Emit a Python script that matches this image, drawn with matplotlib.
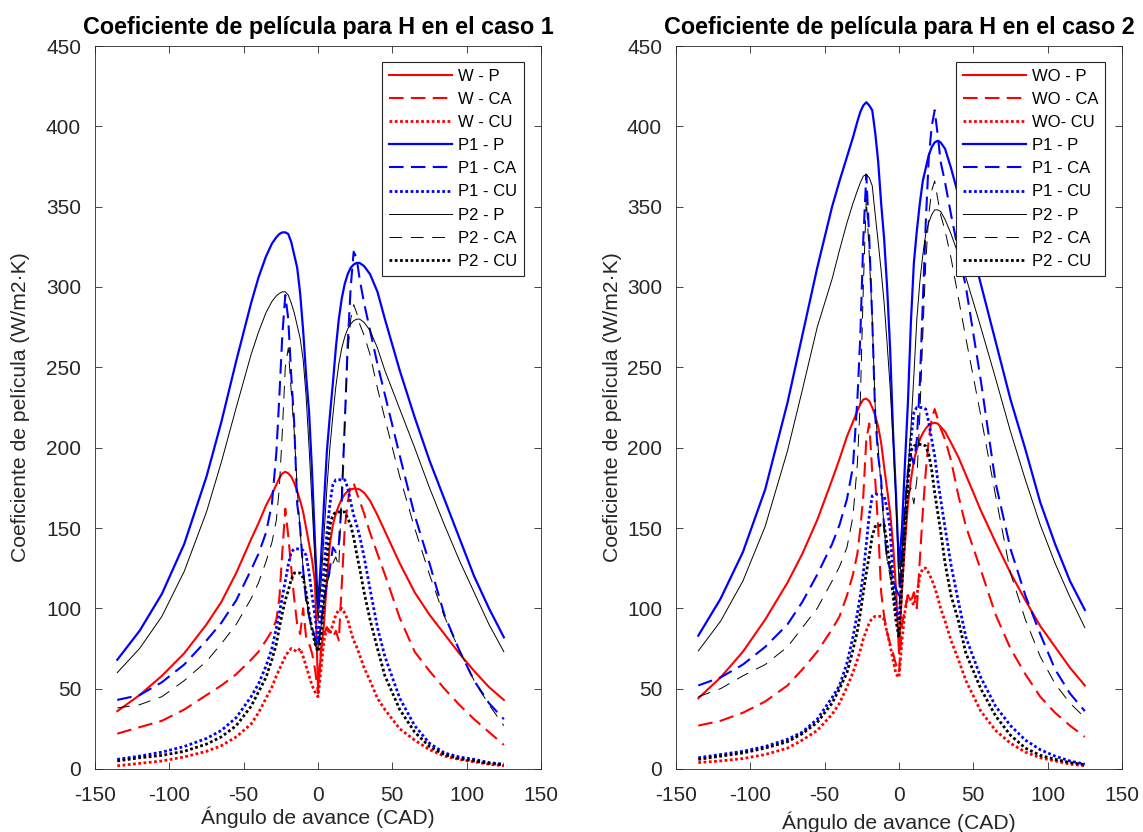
import matplotlib
matplotlib.use("Agg")
import matplotlib.pyplot as plt

plt.rcParams['font.family'] = ['Liberation Sans', 'DejaVu Sans']
plt.rcParams['axes.unicode_minus'] = False

# crank angle grid (CAD) shared by every series
ang = [-135, -120, -105, -90, -75, -65, -55, -45, -40, -35,
       -31, -28, -26, -24, -22, -20, -18, -16, -14, -12, -10, -8, -6, -4, -2,
       0,
       2, 4, 6, 8, 10, 12, 14, 16, 18, 20, 22, 24, 26, 28,
       31, 35, 40, 45,
       55, 65, 75, 85, 95, 105, 115, 125]

# ---- caso 1 ----
w_p_1 = [36, 46, 58, 72, 90, 104, 122, 143, 153, 164,
         171, 177, 181, 184, 185, 184, 182, 178, 173, 167, 160, 150, 140, 130, 116,
         50,
         72, 90, 118, 140, 152, 159, 164, 168, 171, 173, 174, 174.5, 174.5, 174,
         172, 167, 158, 148,
         128, 110, 96, 84, 72, 61, 51, 43]
w_ca_1 = [22, 26, 30, 37, 46, 52, 59, 68, 73, 80,
          86, 93, 106, 135, 162, 145, 125, 106, 90, 84, 100, 82, 78, 72, 62,
          47,
          75, 84, 88, 86, 82, 86, 80, 115, 150, 166, 177, 178, 172, 167,
          159, 147, 134, 121,
          94, 73, 61, 50, 40, 31, 23, 15]
w_cu_1 = [2, 3.5, 5, 7.5, 11, 14.5, 20, 28, 35, 44,
          51, 58, 62, 66, 70, 73, 75, 74, 73, 75, 70, 64, 58, 52, 48,
          45,
          62, 80, 88, 84, 90, 96, 99, 100, 97, 93, 86, 80, 76, 71,
          63, 55, 44, 37,
          25, 18, 12, 8, 6, 4.5, 3, 2]
p1_p_1 = [68, 86, 109, 140, 182, 216, 254, 290, 306, 319,
          327, 331, 333, 334, 334, 333, 328, 320, 312, 296, 273, 245, 222, 185, 140,
          100,
          130, 165, 198, 220, 240, 262, 280, 293, 302, 308, 312, 314, 315, 315,
          313, 308, 297, 280,
          248, 219, 192, 168, 144, 120, 100, 82]
p1_ca_1 = [43, 46, 54, 65, 80, 91, 105, 124, 134, 147,
           165, 197, 232, 270, 295, 280, 245, 215, 165, 150, 124, 105, 95, 88, 82,
           76,
           90, 105, 115, 125, 138, 135, 140, 167, 215, 265, 300, 322, 318, 305,
           290, 273, 252, 233,
           195, 158, 128, 96, 74, 55, 41, 31]
p1_cu_1 = [6, 8, 10.5, 14, 19, 24, 32, 45, 53, 64,
           75, 88, 97, 107, 117, 127, 135, 137, 137, 137, 136, 133, 122, 108, 95,
           80,
           100, 125, 147, 165, 177, 180, 180, 180, 180, 175, 166, 158, 152, 145,
           132, 112, 88, 70,
           44, 27, 16, 10, 7.5, 6, 4, 3]
p2_p_1 = [60, 75, 95, 123, 160, 191, 225, 258, 272, 284,
          291, 294.5, 296, 297, 297, 295, 290, 284, 276, 268, 255, 232, 200, 165, 128,
          92,
          115, 145, 175, 200, 220, 238, 252, 262, 269, 274, 277, 279, 280, 280,
          278, 273, 262, 248,
          224, 200, 175, 152, 130, 110, 90, 73]
p2_ca_1 = [38, 40, 45, 55, 67, 78, 90, 106, 116, 129,
           141, 155, 175, 210, 250, 262, 235, 210, 175, 148, 125, 108, 95, 85, 78,
           72,
           88, 105, 115, 122, 128, 132, 126, 175, 215, 258, 280, 289, 284, 277,
           270, 258, 237, 218,
           182, 150, 121, 95, 74, 55, 40, 27]
p2_cu_1 = [5, 7, 8.5, 11, 15.5, 20, 27, 39, 48, 57,
           68, 78, 88, 97, 105, 111, 118, 122, 122, 122, 119, 110, 97, 87, 78,
           73,
           82, 105, 130, 152, 158, 160, 160, 160, 160, 156, 152, 144, 134, 125,
           110, 93, 75, 58,
           37, 23, 14, 9, 6.5, 5, 3.5, 2.5]

# ---- caso 2 ----
w_p_2 = [44, 57, 73, 93, 116, 134, 155, 180, 193, 207,
         216, 223, 227, 230, 230.5, 229, 225, 220, 213, 203, 188, 174, 160, 140, 112,
         72,
         112, 140, 165, 180, 192, 199, 205, 209, 212, 214, 215, 215.5, 215, 213,
         210, 203, 194, 183,
         161, 141, 122, 105, 89, 76, 63, 52]
w_ca_2 = [27, 30, 35, 42, 52, 62, 73, 87, 95, 108,
          121, 134, 150, 170, 205, 215, 185, 180, 150, 110, 95, 85, 78, 72, 65,
          60,
          90, 100, 108, 104, 110, 100, 130, 160, 185, 205, 218, 224, 218, 212,
          205, 192, 170, 151,
          124, 96, 75, 59, 45, 35, 27, 20]
w_cu_2 = [4, 5, 6.5, 9, 13, 18, 24, 34, 41, 51,
          60, 68, 74, 81, 86, 91, 94, 95, 95, 95, 93, 85, 77, 68, 59,
          57,
          80, 98, 108, 105, 102, 108, 120, 125, 125, 122, 118, 113, 107, 100,
          92, 80, 68, 55,
          36, 24, 16, 10.5, 7, 5, 3, 2]
p1_p_2 = [83, 106, 135, 174, 228, 270, 312, 350, 366, 381,
          393, 403, 409, 413, 415, 413, 410, 396, 378, 352, 330, 300, 262, 210, 170,
          125,
          150, 190, 228, 278, 315, 335, 352, 366, 374, 382, 387, 390, 391, 390,
          386, 374, 357, 338,
          302, 266, 230, 199, 166, 140, 117, 99]
p1_ca_2 = [52, 57, 65, 76, 90, 104, 121, 140, 152, 168,
           188, 230, 270, 330, 370, 330, 280, 220, 195, 180, 150, 130, 125, 118, 112,
           108,
           135, 165, 185, 195, 190, 205, 240, 290, 340, 380, 400, 410, 395, 378,
           365, 345, 322, 300,
           242, 178, 137, 108, 84, 62, 47, 36]
p1_cu_2 = [7, 9, 11, 14, 18.5, 23, 31, 44.5, 52, 66,
           82, 97, 108, 122, 140, 158, 170, 171, 171, 171, 170, 162, 150, 118, 98,
           92,
           125, 157, 180, 205, 222, 225, 225, 225, 224, 216, 205, 195, 180, 168,
           150, 127, 104, 82,
           57, 39, 27, 18, 12, 8, 5, 3]
p2_p_2 = [73.5, 92, 117, 151, 198, 236, 275, 305, 323, 340,
          352, 360, 365, 369, 370, 368, 363, 345, 328, 310, 290, 265, 238, 205, 165,
          115,
          135, 160, 185, 212, 245, 280, 303, 320, 333, 340, 345, 348, 348, 347,
          342, 333, 320, 306,
          275, 243, 210, 180, 152, 128, 107, 88]
p2_ca_2 = [45, 50, 58, 65, 76, 88, 100, 117, 126, 138,
           157, 190, 230, 300, 355, 320, 280, 225, 200, 175, 150, 130, 120, 112, 105,
           100,
           125, 150, 170, 175, 165, 180, 220, 270, 315, 345, 360, 366, 355, 345,
           335, 318, 293, 268,
           220, 170, 122, 93, 70, 53, 41, 32]
p2_cu_2 = [6, 8, 10, 13, 17, 22, 29, 41, 50, 60,
           74, 86, 97, 110, 122, 133, 145, 151, 151, 152, 152, 140, 125, 108, 92,
           82,
           115, 147, 180, 198, 201, 202, 202, 202, 201, 196, 186, 172, 160, 148,
           128, 108, 92, 72,
           50, 33, 21, 13, 8.5, 6, 4, 2.7]

labels_1 = ['W - P', 'W - CA', 'W - CU', 'P1 - P', 'P1 - CA', 'P1 - CU',
            'P2 - P', 'P2 - CA', 'P2 - CU']
labels_2 = ['WO - P', 'WO - CA', 'WO- CU', 'P1 - P', 'P1 - CA', 'P1 - CU',
            'P2 - P', 'P2 - CA', 'P2 - CU']

# colour, linewidth, dash pattern (None = solid)
styles = [('#FF0000', 1.5, None), ('#FF0000', 1.5, (7, 3.5)), ('#FF0000', 2.0, (1, 0.9)),
          ('#0000FF', 1.6, None), ('#0000FF', 1.5, (7, 3.5)), ('#0000FF', 2.0, (1, 0.9)),
          ('#000000', 0.7, None), ('#000000', 0.7, (13, 9)), ('#000000', 2.0, (1, 0.9))]

AX_COL = '#262626'


def draw_panel(ax, series, labels, title, xlab_y, ylab_x):
    for vals, lab, (col, lw, dash) in zip(series, labels, styles):
        if dash is None:
            ax.plot(ang, vals, color=col, lw=lw, label=lab)
        else:
            ax.plot(ang, vals, color=col, lw=lw, label=lab, dashes=dash,
                    dash_capstyle='butt')
    ax.set_xlim(-150, 150)
    ax.set_ylim(0, 450)
    ax.set_xticks(range(-150, 151, 50))
    ax.set_yticks(range(0, 451, 50))
    ax.tick_params(direction='in', top=True, right=True, length=5, width=0.6,
                   colors=AX_COL, labelsize=15)
    ax.tick_params(axis='x', pad=12)
    ax.tick_params(axis='y', pad=10)
    for sp in ax.spines.values():
        sp.set_color(AX_COL)
        sp.set_linewidth(0.6)
    ax.set_title(title, fontsize=16.8, fontweight='bold', pad=8.5)
    ax.set_xlabel('Ángulo de avance (CAD)', fontsize=15.2, color=AX_COL, va='center')
    ax.xaxis.set_label_coords(0.5, xlab_y)
    ax.set_ylabel('Coeficiente de película (W/m2·K)', fontsize=15.2, color=AX_COL,
                  va='center')
    ax.yaxis.set_label_coords(ylab_x, 0.5)
    leg = ax.legend(loc='upper right', bbox_to_anchor=(0.962, 0.978), borderaxespad=0,
                    fontsize=12, handlelength=3.8, handletextpad=0.35,
                    labelspacing=0.49, borderpad=0.4, fancybox=False, framealpha=1)
    leg.get_frame().set_edgecolor(AX_COL)
    leg.get_frame().set_linewidth(0.8)


fig = plt.figure(figsize=(11.43, 8.32), dpi=100)
ax1 = fig.add_axes([95 / 1143, 63 / 832, 446 / 1143, 723 / 832])
ax2 = fig.add_axes([676 / 1143, 63 / 832, 446 / 1143, 723 / 832])

draw_panel(ax1, [w_p_1, w_ca_1, w_cu_1, p1_p_1, p1_ca_1, p1_cu_1, p2_p_1, p2_ca_1, p2_cu_1],
           labels_1, 'Coeficiente de película para H en el caso 1', -0.067, -0.168)
draw_panel(ax2, [w_p_2, w_ca_2, w_cu_2, p1_p_2, p1_ca_2, p1_cu_2, p2_p_2, p2_ca_2, p2_cu_2],
           labels_2, 'Coeficiente de película para H en el caso 2', -0.074, -0.143)

fig.savefig('out.png', dpi=100)
